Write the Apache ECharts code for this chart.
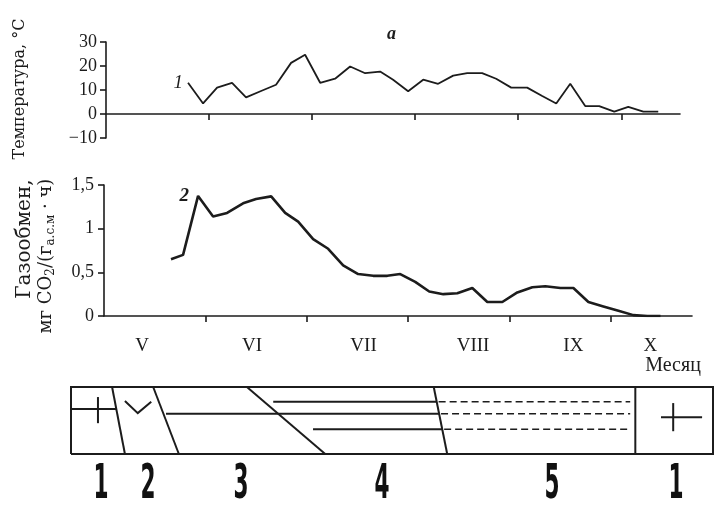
<!DOCTYPE html>
<html>
<head>
<meta charset="utf-8">
<script src="https://cdn.jsdelivr.net/npm/echarts@6/dist/echarts.min.js"></script>
<style>html,body{margin:0;padding:0;background:#fff}#c{width:716px;height:506px}</style>
</head>
<body>
<div id="c"></div>
<script>
// ---- data (x in months since 1 May) ----
const months = ['V', 'VI', 'VII', 'VIII', 'IX', 'X'];
const monthLabelPos = [0.375, 1.46, 2.56, 3.64, 4.63, 5.39];
const monthTicks = [1, 2, 3, 4, 5];

const tempX = [0.796, 0.942, 1.078, 1.223, 1.359, 1.505, 1.650, 1.796, 1.932, 2.078, 2.223, 2.369, 2.515, 2.660, 2.786, 2.932, 3.078, 3.223, 3.369, 3.505, 3.650, 3.786, 3.932, 4.087, 4.233, 4.369, 4.505, 4.650, 4.786, 4.932, 5.068, 5.214, 5.359];
const tempY = [13.0, 4.4, 11.0, 13.0, 6.9, 9.6, 12.2, 21.3, 24.7, 13.0, 14.7, 19.8, 17.0, 17.7, 14.3, 9.5, 14.3, 12.6, 16.0, 17.0, 17.0, 14.7, 11.0, 11.0, 7.5, 4.4, 12.6, 3.3, 3.3, 1.0, 3.0, 1.0, 1.0];

const gasX = [0.661, 0.780, 0.928, 1.076, 1.214, 1.372, 1.500, 1.649, 1.787, 1.915, 2.063, 2.211, 2.359, 2.507, 2.655, 2.794, 2.922, 3.070, 3.208, 3.347, 3.485, 3.633, 3.781, 3.929, 4.077, 4.225, 4.353, 4.502, 4.630, 4.778, 4.926, 5.074, 5.222, 5.360, 5.489];
const gasY = [0.65, 0.70, 1.375, 1.14, 1.18, 1.29, 1.34, 1.37, 1.18, 1.08, 0.88, 0.77, 0.58, 0.48, 0.46, 0.46, 0.48, 0.39, 0.28, 0.25, 0.26, 0.32, 0.16, 0.16, 0.27, 0.33, 0.34, 0.32, 0.32, 0.16, 0.11, 0.06, 0.01, 0.0, 0.0];

// ---- phase diagram (percent of box width / height) ----
const phaseBounds = [[6.4, 8.4], [12.8, 16.8], [27.4, 39.6], [56.5, 58.6], [87.9, 87.9]]; // [x at top, x at bottom]
const stripeRows = [{ y: 78, from: 31.5 }, { y: 60, from: 14.8 }, { y: 37, from: 37.7 }];
const stripeDashEnd = 87.1;
const phaseNames = ['1', '2', '3', '4', '5', '1'];
const phaseNameX = [101, 148, 241, 382, 552, 676];

const INK = '#1c1c1c';
const SERIF = "'Liberation Serif', 'DejaVu Serif', serif";

const chart = echarts.init(document.getElementById('c'));

function boundAt(b, y) { return b[0] + (b[1] - b[0]) * (1 - y / 100); }

const diagramLines = [];
diagramLines.push({ coords: [[0, 0], [100, 0], [100, 100], [0, 100], [0, 0]] });
phaseBounds.forEach(b => diagramLines.push({ coords: [[b[0], 100], [b[1], 0]] }));
// left "+" symbol
diagramLines.push({ coords: [[0, 67], [boundAt(phaseBounds[0], 67), 67]] });
diagramLines.push({ coords: [[4.2, 46], [4.2, 85]] });
// check mark
diagramLines.push({ coords: [[8.4, 79], [10.4, 61], [12.5, 78]] });
// stripes: solid up to boundary 4, dashed after
stripeRows.forEach(r => {
  const bx = boundAt(phaseBounds[3], r.y);
  diagramLines.push({ coords: [[r.from, r.y], [bx, r.y]] });
  diagramLines.push({ coords: [[bx + 0.3, r.y], [stripeDashEnd, r.y]], lineStyle: { type: [7, 4], width: 1.6 } });
});
// right "+"
diagramLines.push({ coords: [[91.9, 55], [98.3, 55]] });
diagramLines.push({ coords: [[93.8, 34], [93.8, 76]] });

const axisText = { color: INK, fontFamily: SERIF, fontSize: 18 };

const option = {
  animation: false,
  title: {
    text: 'a', left: 382, top: 20,
    textStyle: { fontFamily: SERIF, fontStyle: 'italic', fontWeight: 'bold', fontSize: 18, color: INK }
  },
  grid: [
    { left: 106, top: 42, width: 574, height: 96 },
    { left: 104, top: 185, width: 588, height: 131 },
    { left: 71, top: 387, width: 642, height: 67 }
  ],
  xAxis: [
    {
      gridIndex: 0, type: 'value', min: 0, max: 5.57, interval: 1,
      axisLine: { show: true, lineStyle: { color: INK, width: 1.6 } },
      axisTick: { show: true, length: 6, customValues: monthTicks, lineStyle: { color: INK, width: 1.6 } },
      axisLabel: { show: false }, splitLine: { show: false }
    },
    {
      gridIndex: 1, type: 'value', min: 0, max: 5.80, interval: 1,
      axisLine: { show: true, onZero: false, lineStyle: { color: INK, width: 1.6 } },
      axisTick: { show: true, length: 6, customValues: monthTicks, lineStyle: { color: INK, width: 1.6 } },
      axisLabel: {
        show: true, customValues: monthLabelPos, margin: 21,
        formatter: v => months[monthLabelPos.indexOf(v)] || '',
        color: INK, fontFamily: SERIF, fontSize: 19
      },
      splitLine: { show: false }
    },
    { gridIndex: 2, type: 'value', min: 0, max: 100, show: false }
  ],
  yAxis: [
    {
      gridIndex: 0, type: 'value', min: -10, max: 30, interval: 10,
      axisLine: { show: true, lineStyle: { color: INK, width: 1.6 } },
      axisTick: { show: true, length: 6, lineStyle: { color: INK, width: 1.6 } },
      axisLabel: Object.assign({ margin: 9, formatter: v => v < 0 ? '\u2212' + Math.abs(v) : String(v) }, axisText),
      splitLine: { show: false }
    },
    {
      gridIndex: 1, type: 'value', min: 0, max: 1.5, interval: 0.5,
      axisLine: { show: true, lineStyle: { color: INK, width: 1.6 } },
      axisTick: { show: true, length: 6, lineStyle: { color: INK, width: 1.6 } },
      axisLabel: Object.assign({ margin: 10, formatter: v => String(v).replace('.', ',') }, axisText),
      splitLine: { show: false }
    },
    { gridIndex: 2, type: 'value', min: 0, max: 100, show: false }
  ],
  series: [
    {
      type: 'line', xAxisIndex: 0, yAxisIndex: 0,
      symbol: 'circle', symbolSize: 0, showSymbol: true,
      lineStyle: { color: INK, width: 1.8 }, itemStyle: { color: INK },
      data: tempX.map((x, i) => i === 0 ? {
        value: [x, tempY[i]],
        label: { show: true, position: 'left', distance: 5, formatter: '1', fontFamily: SERIF, fontStyle: 'italic', fontSize: 19, color: INK }
      } : [x, tempY[i]])
    },
    {
      type: 'line', xAxisIndex: 1, yAxisIndex: 1,
      symbol: 'circle', symbolSize: 0, showSymbol: true,
      lineStyle: { color: INK, width: 2.6 }, itemStyle: { color: INK },
      data: gasX.map((x, i) => i === 2 ? {
        value: [x, gasY[i]],
        label: { show: true, position: 'left', distance: 9, formatter: '2', fontFamily: SERIF, fontStyle: 'italic', fontWeight: 'bold', fontSize: 19, color: INK }
      } : [x, gasY[i]])
    },
    {
      type: 'lines', coordinateSystem: 'cartesian2d', xAxisIndex: 2, yAxisIndex: 2,
      polyline: true, clip: false, silent: true,
      lineStyle: { color: INK, width: 2, opacity: 1 },
      data: diagramLines
    }
  ],
  graphic: [
    {
      type: 'text', x: 20, y: 89, rotation: Math.PI / 2,
      style: { text: 'Температура, °C', font: "16px 'DejaVu Serif'", fill: INK, align: 'center', verticalAlign: 'middle' }
    },
    {
      type: 'text', x: 25, y: 239, rotation: Math.PI / 2,
      style: { text: 'Газообмен,', font: "20px 'DejaVu Serif'", fill: INK, align: 'center', verticalAlign: 'middle' }
    },
    {
      type: 'text', x: 46, y: 256, rotation: Math.PI / 2,
      style: {
        text: 'мг CO{s|2}/(г{s|а.с.м} · ч)', font: "18px 'DejaVu Serif'", fill: INK,
        align: 'center', verticalAlign: 'middle',
        rich: {
          s: { fontSize: 12, fontFamily: 'DejaVu Serif', fill: INK, verticalAlign: 'bottom', lineHeight: 22 }
        }
      }
    },
    {
      type: 'text', x: 673, y: 366,
      style: { text: 'Месяц', font: "20px 'Liberation Serif'", fill: INK, align: 'center', verticalAlign: 'middle' }
    }
  ].concat(phaseNames.map((t, i) => ({
    type: 'text', x: phaseNameX[i], y: 486, scaleX: 0.5,
    style: { text: t, font: "bold 48px 'DejaVu Sans Condensed', 'DejaVu Sans'", fill: '#111', align: 'center', verticalAlign: 'middle' }
  })))
};

chart.setOption(option);
</script>
</body>
</html>
